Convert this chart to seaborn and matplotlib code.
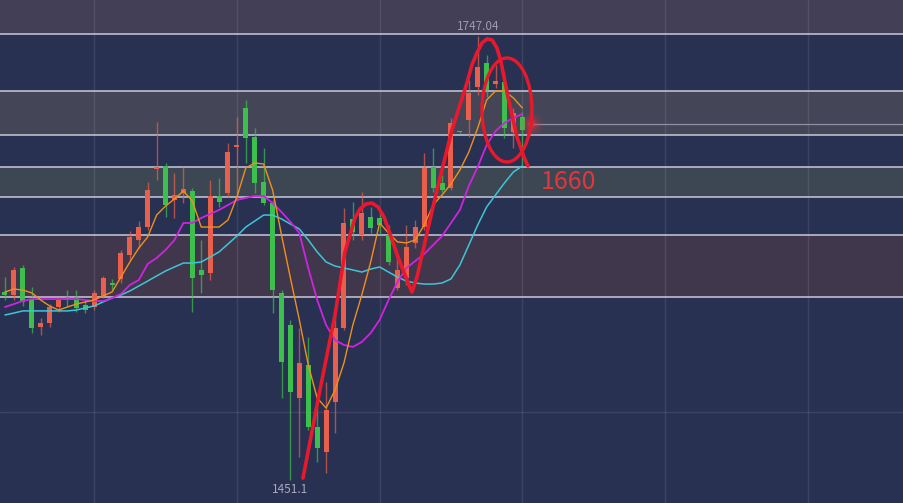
import numpy as np
import pandas as pd
import matplotlib
matplotlib.use("Agg")
import matplotlib.pyplot as plt
from matplotlib.patches import Ellipse
import seaborn as sns

# ---- daily candles (oldest -> newest) ----
opens = [1576.4, 1574.4, 1592.4, 1571.1, 1553.1, 1555.8, 1566.4, 1573.1, 1573.1, 1567.8,
         1566.4, 1573.8, 1582.4, 1585.1, 1601.1, 1611.1, 1619.7, 1658.4, 1660.4, 1637.7,
         1642.4, 1643.7, 1591.1, 1589.1, 1640.4, 1642.4, 1673.1, 1699.1, 1679.7, 1649.7,
         1635.7, 1575.8, 1554.4, 1505.8, 1527.8, 1486.4, 1469.8, 1503.1, 1552.4, 1625.1,
         1614.4, 1626.4, 1625.7, 1614.4, 1579.1, 1585.7, 1609.1, 1619.7, 1659.7, 1649.1,
         1645.7, 1683.4, 1691.1, 1713.0, 1729.1, 1715.1, 1716.4, 1683.1, 1693.1]
highs = [1586.4, 1593.1, 1594.4, 1579.7, 1559.1, 1568.4, 1573.1, 1577.7, 1577.7, 1571.1,
         1577.7, 1587.1, 1585.1, 1604.4, 1617.1, 1623.7, 1649.7, 1689.7, 1662.4, 1655.7,
         1659.7, 1645.7, 1611.1, 1651.1, 1652.4, 1675.7, 1693.1, 1704.4, 1685.7, 1672.4,
         1637.7, 1577.7, 1557.8, 1552.4, 1546.4, 1499.8, 1516.4, 1562.4, 1632.4, 1636.4,
         1643.1, 1633.1, 1631.1, 1621.1, 1601.1, 1621.1, 1624.4, 1669.1, 1672.4, 1654.4,
         1692.4, 1684.0, 1717.7, 1747.04, 1734.4, 1727.7, 1723.0, 1699.1, 1696.4]
lows = [1571.1, 1571.1, 1567.1, 1549.1, 1547.8, 1553.1, 1563.1, 1566.4, 1563.1, 1562.4,
        1564.4, 1572.4, 1577.7, 1582.4, 1597.7, 1605.7, 1617.7, 1651.1, 1626.4, 1625.7,
        1635.7, 1563.1, 1575.8, 1584.4, 1633.1, 1639.7, 1637.7, 1662.4, 1642.4, 1634.4,
        1562.4, 1505.8, 1451.1, 1466.4, 1484.4, 1463.1, 1455.8, 1482.4, 1551.1, 1611.1,
        1611.1, 1615.7, 1614.4, 1594.4, 1577.7, 1581.1, 1605.7, 1617.7, 1643.1, 1643.1,
        1644.4, 1682.4, 1679.7, 1707.7, 1706.4, 1712.4, 1679.1, 1672.4, 1661.1]
closes = [1574.4, 1591.1, 1569.8, 1552.4, 1555.8, 1566.4, 1571.1, 1571.1, 1565.8, 1564.4,
          1575.8, 1585.7, 1581.1, 1602.4, 1613.1, 1619.7, 1644.4, 1659.7, 1634.4, 1641.1,
          1645.1, 1585.7, 1587.7, 1640.4, 1636.4, 1669.7, 1674.4, 1679.1, 1649.1, 1635.7,
          1577.7, 1529.8, 1509.8, 1529.1, 1486.4, 1472.4, 1497.8, 1552.4, 1622.4, 1616.4,
          1629.1, 1619.1, 1621.1, 1596.4, 1591.1, 1606.4, 1619.7, 1659.1, 1645.7, 1644.4,
          1689.1, 1683.1, 1709.1, 1726.4, 1711.1, 1717.1, 1685.7, 1695.7, 1684.4]

# ---- moving averages ----
ma5 = [1576.4, 1578.4, 1577.7, 1575.8, 1571.1, 1567.1, 1564.4, 1566.4, 1568.4, 1569.8,
       1571.1, 1573.8, 1576.4, 1586.4, 1596.4, 1605.7, 1613.1, 1627.7, 1633.7, 1638.4,
       1643.7, 1637.1, 1619.7, 1619.7, 1619.7, 1624.4, 1639.7, 1659.1, 1662.4, 1661.7,
       1644.4, 1614.4, 1585.7, 1557.8, 1527.8, 1505.8, 1499.1, 1511.1, 1529.1, 1554.4,
       1574.4, 1596.4, 1622.4, 1615.7, 1609.8, 1609.1, 1611.1, 1621.1, 1634.4, 1641.1,
       1648.4, 1657.7, 1669.7, 1685.7, 1704.4, 1710.4, 1710.4, 1705.7, 1699.1]
ma10 = [1566.4, 1568.4, 1570.4, 1571.7, 1571.7, 1571.7, 1571.7, 1571.7, 1571.7, 1571.1,
        1570.4, 1570.4, 1572.4, 1575.1, 1581.1, 1584.4, 1595.1, 1599.1, 1604.4, 1611.1,
        1622.4, 1622.4, 1625.7, 1628.4, 1631.1, 1634.4, 1637.7, 1639.1, 1640.4, 1640.4,
        1635.7, 1629.7, 1623.1, 1615.7, 1592.4, 1571.1, 1554.4, 1544.4, 1541.1, 1539.8,
        1543.1, 1549.1, 1557.8, 1571.1, 1583.1, 1592.4, 1597.1, 1601.7, 1607.7, 1613.7,
        1622.4, 1631.1, 1647.1, 1659.7, 1674.4, 1683.7, 1689.1, 1692.4, 1695.1]
ma20 = [1561.1, 1562.4, 1563.8, 1563.8, 1563.8, 1563.8, 1563.8, 1563.8, 1564.4, 1565.8,
        1567.1, 1569.8, 1572.4, 1574.4, 1577.1, 1580.4, 1583.7, 1587.1, 1590.4, 1593.1,
        1595.7, 1595.7, 1596.4, 1599.7, 1603.1, 1608.4, 1613.7, 1619.7, 1623.7, 1627.7,
        1627.7, 1625.1, 1621.7, 1618.4, 1611.1, 1603.1, 1596.4, 1593.7, 1592.4, 1591.1,
        1589.7, 1591.7, 1593.1, 1589.7, 1586.4, 1583.7, 1582.4, 1581.7, 1581.7, 1582.4,
        1585.1, 1594.4, 1607.7, 1621.1, 1633.1, 1641.1, 1649.1, 1656.4, 1660.4]

# ---- horizontal levels and shaded zones ----
level_lines = [1748.4, 1710.4, 1681.0, 1660.0, 1639.7, 1614.4, 1573.0]
zones = [(1748.4, 1790.0, "#433f56"),
         (1681.0, 1710.4, "#444657"),
         (1639.7, 1660.0, "#3c4753"),
         (1573.0, 1614.4, "#41374c")]
last_price = 1688.4
key_level_text = "1660"
high_label = "1747.04"
low_label = "1451.1"

# ---- hand-drawn wave sketch (bar index, price) ----
wave_x = [33.41, 35.31, 37.0, 38.12, 39.24, 39.8, 40.47, 41.14, 41.82, 42.49, 42.94,
          44.06, 45.07, 45.63, 46.19, 47.31, 48.43, 50.11, 51.79, 52.35, 52.91, 53.48,
          54.04, 54.6, 55.16, 55.61, 56.39, 57.4, 58.18, 58.63]
wave_y = [1452.4, 1511.1, 1561.1, 1603.1, 1625.7, 1631.7, 1635.1, 1635.7, 1633.1, 1626.4,
          1619.1, 1599.7, 1584.4, 1576.4, 1586.4, 1615.7, 1644.4, 1684.4, 1715.7, 1727.7,
          1735.7, 1742.4, 1745.0, 1744.4, 1739.0, 1729.7, 1706.4, 1679.7, 1666.4, 1660.4]
ring_center = (56.28, 1697.7)
ring_size = (5.6, 69.3)

grid_x = [10, 26, 42, 58, 74, 90]
grid_y = [1496.4]

BG = "#283151"
UP = "#e8604c"
DOWN = "#3cbf4c"
PEN = "#e8192c"

sns.set_theme(style="dark")
plt.rcParams["font.family"] = ["Noto Sans CJK SC", "DejaVu Sans"]

fig = plt.figure(figsize=(9.04, 5.03), dpi=100)
fig.patch.set_facecolor(BG)
ax = fig.add_axes([0, 0, 1, 1])
ax.set_facecolor(BG)

idx = np.arange(len(closes))
ax.set_xlim(-0.56, 100.79)
ax.set_ylim(1435.8, 1771.0)

for lo, hi, col in zones:
    ax.axhspan(lo, hi, color=col, zorder=0, lw=0)
for gx in grid_x:
    ax.axvline(gx, color="#ffffff", alpha=0.09, lw=1.0, zorder=0.5)
for gy in grid_y:
    ax.axhline(gy, color="#ffffff", alpha=0.09, lw=1.0, zorder=0.5)
for lv in level_lines:
    ax.axhline(lv, color="#c9c9d9", lw=1.1, zorder=1)
ax.hlines(last_price, 59.2, 100.79, color="#8e8ea4", lw=0.9, zorder=1)

df = pd.DataFrame({"idx": idx, "open": opens, "high": highs, "low": lows, "close": closes})
df["up"] = df["close"] > df["open"]
colors = np.where(df["up"], UP, DOWN)
body_lo = df[["open", "close"]].min(axis=1)
body_h = (df["close"] - df["open"]).abs().clip(lower=0.8)

ax.vlines(df["idx"], df["low"], df["high"], colors=colors, lw=1.0, alpha=0.7, zorder=2)
ax.bar(df["idx"], body_h, bottom=body_lo, width=0.56, color=colors, lw=0, zorder=3)

sns.lineplot(x=idx, y=ma20, color="#3cc6d8", lw=1.1, ax=ax, zorder=4)
sns.lineplot(x=idx, y=ma10, color="#cf23df", lw=1.3, ax=ax, zorder=4)
sns.lineplot(x=idx, y=ma5, color="#f0901c", lw=1.0, ax=ax, zorder=4)

# red marker glow at the latest price
for s, a in [(300, 0.08), (170, 0.13), (80, 0.22), (25, 0.4)]:
    ax.scatter([59.0], [last_price], s=s, color="#ff3040", alpha=a, lw=0, zorder=5)

ax.plot(wave_x, wave_y, color=PEN, lw=2.6, solid_capstyle="round",
        solid_joinstyle="round", zorder=6)
ax.add_patch(Ellipse(ring_center, ring_size[0], ring_size[1], angle=0,
                     fill=False, edgecolor=PEN, lw=2.4, zorder=6))

hi_i = int(np.argmax(highs))
lo_i = int(np.argmin(lows))
ax.text(hi_i, highs[hi_i] + 6.0, high_label, color="#9c9bb0", fontsize=8.5,
        ha="center", va="center", zorder=7)
ax.text(lo_i, lows[lo_i] - 6.0, low_label, color="#a7a9bd", fontsize=8.5,
        ha="center", va="center", zorder=7)
ax.text(60.1, 1649.7, key_level_text, color="#e3363c", fontsize=18,
        ha="left", va="center", zorder=7)

ax.set_xticks([])
ax.set_yticks([])
ax.set_xlabel("")
ax.set_ylabel("")
for sp in ax.spines.values():
    sp.set_visible(False)
ax.grid(False)

fig.savefig("out.png", dpi=100, facecolor=BG)
